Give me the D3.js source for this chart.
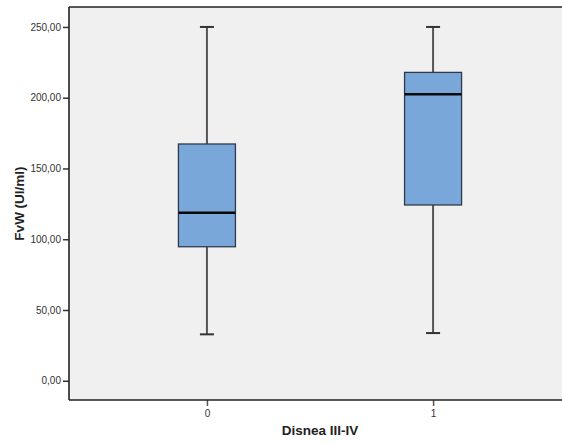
<!DOCTYPE html>
<html>
<head>
<meta charset="utf-8">
<script src="https://cdn.jsdelivr.net/npm/d3@7/dist/d3.min.js"></script>
<style>
  html, body { margin: 0; padding: 0; background: #fff; }
  svg { display: block; }
  text { font-family: Arial, "Liberation Sans", sans-serif; }
</style>
</head>
<body>
<svg id="chart" width="562" height="443"></svg>
<script>
// Box summaries for FvW by Disnea III-IV group
const categories = ["0", "1"];
const whiskerLow  = [32.8, 33.7];
const quartile1   = [94.7, 124.2];
const medians     = [118.7, 202.4];
const quartile3   = [167.3, 217.9];
const whiskerHigh = [250, 250];
const yTicks = [0, 50, 100, 150, 200, 250];
const xTitle = "Disnea III-IV";
const yTitle = "FvW (UI/ml)";

(function () {
  const svg = d3.select("#chart");
  const plotLeft = 69, plotRight = 571, plotTop = 7, plotBottom = 400;

  const x = d3.scalePoint().domain(categories).range([plotLeft, plotRight]).padding(0.61);
  const y = d3.scaleLinear().domain([-13.6, 264.1]).range([plotBottom, plotTop]);

  // plot background
  svg.append("rect")
    .attr("x", plotLeft).attr("y", plotTop)
    .attr("width", plotRight - plotLeft).attr("height", plotBottom - plotTop)
    .attr("fill", "#f0f0f0");

  const fmt = d => d3.format(".2f")(d).replace(".", ",");

  // y axis
  const yAxis = svg.append("g")
    .attr("transform", `translate(${plotLeft},0)`)
    .call(d3.axisLeft(y).tickValues(yTicks).tickSize(6).tickPadding(2).tickFormat(fmt));
  yAxis.select(".domain").remove();
  yAxis.selectAll(".tick line").attr("stroke", "#333").attr("stroke-width", 1.5);
  yAxis.selectAll(".tick text").attr("fill", "#333").style("font-size", "10px")
    .style("font-family", "Arial, 'Liberation Sans', sans-serif");

  // x axis
  const xAxis = svg.append("g")
    .attr("transform", `translate(0,${plotBottom})`)
    .call(d3.axisBottom(x).tickSize(6).tickPadding(4));
  xAxis.select(".domain").remove();
  xAxis.selectAll(".tick line").attr("stroke", "#555").attr("stroke-width", 1.5);
  xAxis.selectAll(".tick text").attr("fill", "#333").style("font-size", "10px")
    .style("font-family", "Arial, 'Liberation Sans', sans-serif");

  // frame: top, left and bottom edges
  const frame = svg.append("g").attr("stroke", "#222").attr("stroke-width", 1.6).attr("fill", "none");
  frame.append("line").attr("x1", plotLeft).attr("x2", plotRight).attr("y1", plotTop).attr("y2", plotTop);
  frame.append("line").attr("x1", plotLeft).attr("x2", plotLeft).attr("y1", plotTop).attr("y2", plotBottom);
  frame.append("line").attr("x1", plotLeft).attr("x2", plotRight).attr("y1", plotBottom).attr("y2", plotBottom);

  // boxes
  const boxW = 57, capW = 14;
  const data = categories.map((c, i) => ({
    c, lo: whiskerLow[i], q1: quartile1[i], med: medians[i], q3: quartile3[i], hi: whiskerHigh[i]
  }));

  const box = svg.append("g").selectAll("g.box").data(data).join("g").attr("class", "box");

  box.append("line")
    .attr("x1", d => x(d.c)).attr("x2", d => x(d.c))
    .attr("y1", d => y(d.hi)).attr("y2", d => y(d.q3))
    .attr("stroke", "#555").attr("stroke-width", 2);
  box.append("line")
    .attr("x1", d => x(d.c)).attr("x2", d => x(d.c))
    .attr("y1", d => y(d.q1)).attr("y2", d => y(d.lo))
    .attr("stroke", "#555").attr("stroke-width", 2);
  box.append("line")
    .attr("x1", d => x(d.c) - capW / 2).attr("x2", d => x(d.c) + capW / 2)
    .attr("y1", d => y(d.hi)).attr("y2", d => y(d.hi))
    .attr("stroke", "#333").attr("stroke-width", 2);
  box.append("line")
    .attr("x1", d => x(d.c) - capW / 2).attr("x2", d => x(d.c) + capW / 2)
    .attr("y1", d => y(d.lo)).attr("y2", d => y(d.lo))
    .attr("stroke", "#333").attr("stroke-width", 2);
  box.append("rect")
    .attr("x", d => x(d.c) - boxW / 2).attr("width", boxW)
    .attr("y", d => y(d.q3)).attr("height", d => y(d.q1) - y(d.q3))
    .attr("fill", "#7aa7d9").attr("stroke", "#2e3a48").attr("stroke-width", 1.3);
  box.append("line")
    .attr("x1", d => x(d.c) - boxW / 2).attr("x2", d => x(d.c) + boxW / 2)
    .attr("y1", d => y(d.med)).attr("y2", d => y(d.med))
    .attr("stroke", "#0a0a0a").attr("stroke-width", 2.6);

  // axis titles
  svg.append("text")
    .attr("x", (plotLeft + plotRight) / 2).attr("y", 435)
    .attr("text-anchor", "middle")
    .style("font-size", "13.5px").style("font-weight", "bold").attr("fill", "#222")
    .text(xTitle);
  svg.append("text")
    .attr("transform", `translate(24,${(plotTop + plotBottom) / 2}) rotate(-90)`)
    .attr("text-anchor", "middle")
    .style("font-size", "13.5px").style("font-weight", "bold").attr("fill", "#222")
    .text(yTitle);
})();
</script>
</body>
</html>
